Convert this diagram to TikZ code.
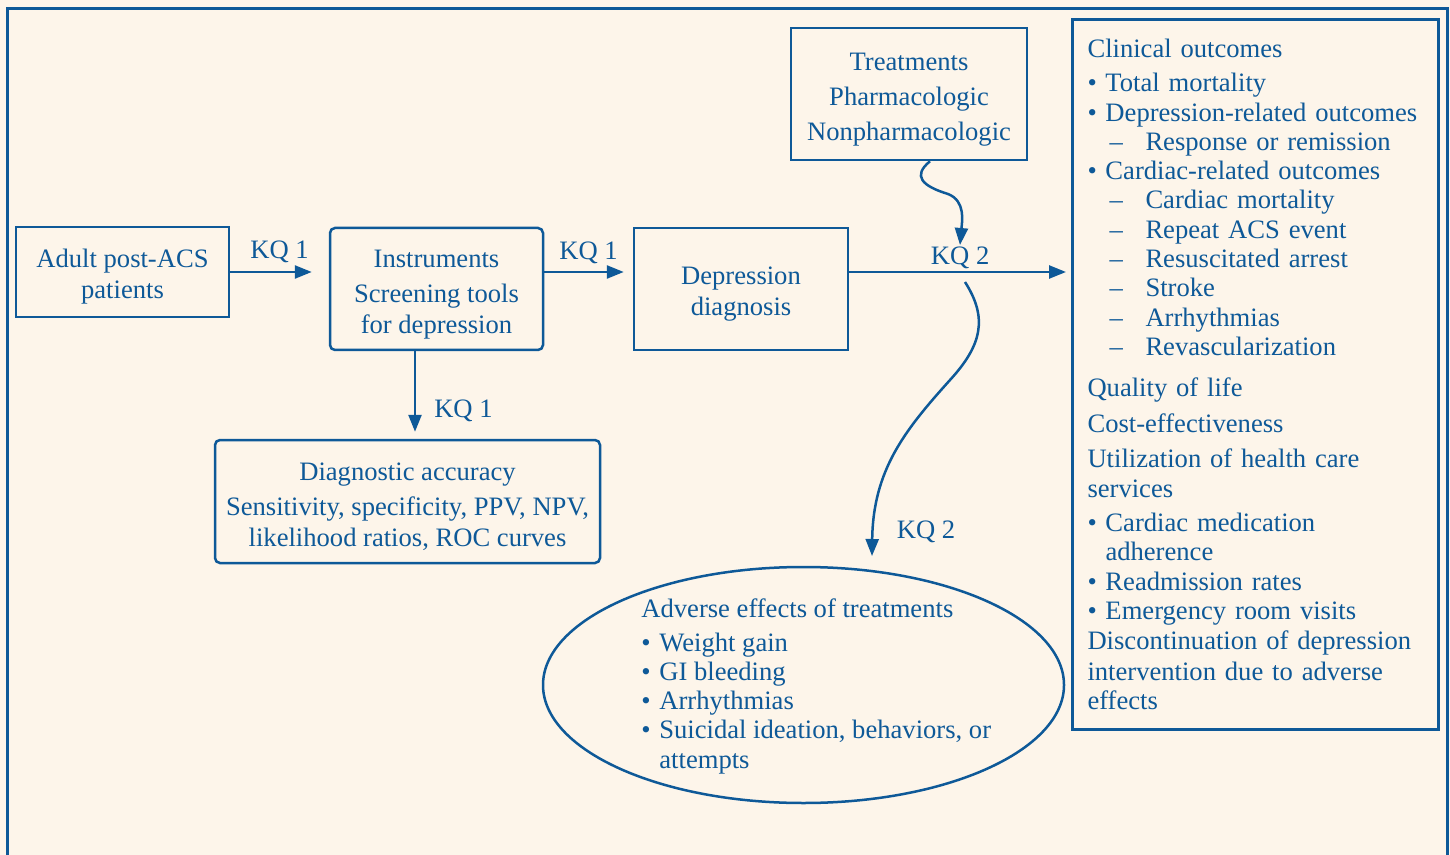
\documentclass[tikz,border=0pt]{standalone}
\usepackage{fontspec}
\setmainfont{Liberation Serif}
\usetikzlibrary{shapes.geometric,arrows.meta}
\definecolor{kqblue}{RGB}{14,89,152}
\definecolor{kqcream}{RGB}{253,245,234}
\newcommand{\bulitm}{\makebox[9pt][l]{\textbullet}}
\newcommand{\subitm}{\hspace*{11pt}\makebox[18pt][l]{--}}
\newcommand{\topstrut}{\rule{0pt}{14pt}}

\begin{document}
\begin{tikzpicture}[x=0.5pt,y=-0.5pt,
  every node/.style={text=kqblue,font=\fontsize{13.3}{15.5}\selectfont},
  box/.style={draw=kqblue,line width=1.25pt,align=center,inner sep=0pt},
  rbox/.style={box,rounded corners=2.5pt},
  list/.style={align=left,inner sep=0pt,font=\fontsize{13.3}{14.65}\selectfont},
  arr/.style={draw=kqblue,line width=1.25pt,-{Triangle[length=8.5pt,width=6.5pt]}},
  kq/.style={inner sep=1pt}]
  \useasboundingbox (0,0) rectangle (1450,855);
  \fill[kqcream] (0,0) rectangle (1450,855);
  \draw[kqblue,line width=1.5pt] (7,856) -- (7,9) -- (1447,9) -- (1447,856);

  \node (adult) [box,minimum width=106.5pt,minimum height=45pt] at (122.5,272) {\topstrut Adult post-ACS\\patients};
  \node (instr) [rbox,minimum width=106.5pt,minimum height=61pt] at (436.5,289) {\topstrut Instruments\\[2pt]Screening tools\\for depression};
  \node (dep) [box,minimum width=107pt,minimum height=61pt] at (741,289) {\topstrut Depression\\diagnosis};
  \node (treat) [box,minimum width=118pt,minimum height=66pt] at (909,94) {\topstrut Treatments\\[2pt]Pharmacologic\\[2pt]Nonpharmacologic};
  \node (diag) [rbox,minimum width=192.5pt,minimum height=61.5pt] at (407.5,501.5) {\topstrut Diagnostic accuracy\\[2pt]Sensitivity, specificity, PPV, NPV,\\likelihood ratios, ROC curves};
  \node (adv) [ellipse,draw=kqblue,line width=1.25pt,minimum width=260.5pt,minimum height=118pt] at (803.5,685) {};
  \node (advtxt) [list,anchor=north west] at (641,598) {Adverse effects of treatments\\[2.3pt]
    \bulitm Weight gain\\
    \bulitm GI bleeding\\
    \bulitm Arrhythmias\\
    \bulitm Suicidal ideation, behaviors, or\\
    \hspace*{9pt}attempts};
  \node (out) [box,list,line width=1.5pt,anchor=north west,text width=168pt,inner xsep=7.5pt,minimum height=355pt] at (1071,18) {Clinical outcomes\\[2.3pt]
    \bulitm Total mortality\\
    \bulitm Depression-related outcomes\\
    \subitm Response or remission\\
    \bulitm Cardiac-related outcomes\\
    \subitm Cardiac mortality\\
    \subitm Repeat ACS event\\
    \subitm Resuscitated arrest\\
    \subitm Stroke\\
    \subitm Arrhythmias\\
    \subitm Revascularization\\[6pt]
    Quality of life\\[3pt]
    Cost-effectiveness\\[3pt]
    Utilization of health care\\[0.5pt]
    services\\[2.3pt]
    \bulitm Cardiac medication\\
    \hspace*{9pt}adherence\\
    \bulitm Readmission rates\\
    \bulitm Emergency room visits\\[0.5pt]
    Discontinuation of depression\\[0.5pt]
    intervention due to adverse\\
    effects};

  \coordinate (tip1) at (960,245);
  \coordinate (kq2a) at (965,282);
  \coordinate (tip2) at (872,556);

  \draw[arr,shorten >=8.5pt] (adult.east) -- (adult.east -| instr.west) node[kq,midway,above=3pt] {KQ 1};
  \draw[arr,shorten >=4.5pt] (instr.east |- adult.east) -- (dep.west |- adult.east) node[kq,midway,above=2.5pt] {KQ 1};
  \draw[arr,shorten >=2.5pt] (dep.east |- adult.east) -- (out.west |- adult.east) node[kq,midway,above=0pt] {KQ 2};
  \draw[arr,shorten >=3.5pt] ([xshift=-10.75pt]instr.south) -- ([xshift=-10.75pt]instr.south |- diag.north) node[kq,pos=0.68,right=8pt] {KQ 1};
  \draw[arr] ([xshift=10.5pt]treat.south) .. controls (912,176) and (922,186) .. (948,194) .. controls (966,201) and (962,222) .. (tip1);
  \draw[arr] (kq2a) .. controls (988,318) and (982,345) .. (950,380) .. controls (905,430) and (873,470) .. (tip2);
  \node (kq2lbl) [kq] at (926,532) {KQ 2};
\end{tikzpicture}
\end{document}
